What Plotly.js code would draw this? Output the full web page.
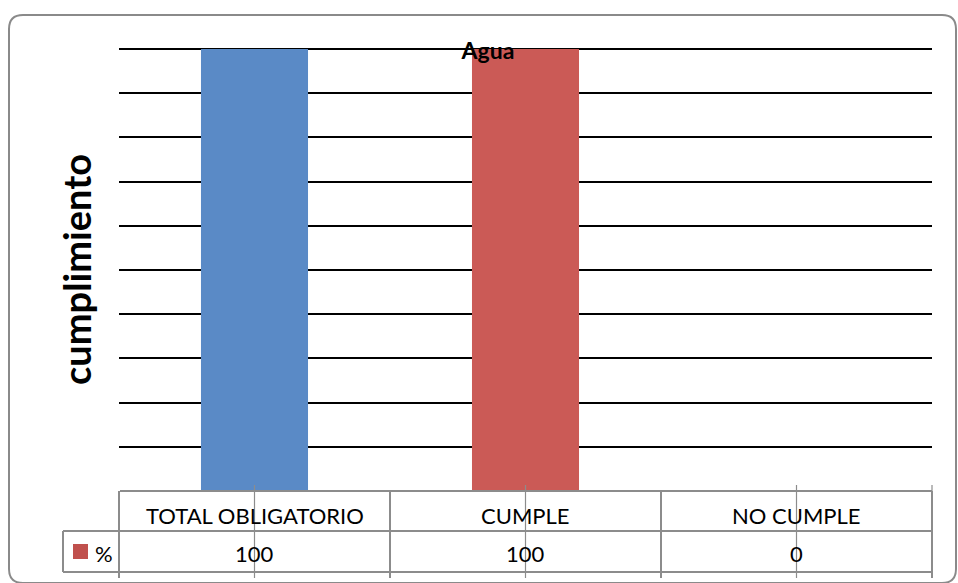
<!DOCTYPE html>
<html>
<head>
<meta charset="utf-8">
<script src="https://cdn.plot.ly/plotly-3.0.1.min.js"></script>
<style>
  html, body { margin: 0; padding: 0; background: #ffffff; }
  #chart { width: 958px; height: 583px; }
</style>
</head>
<body>
<div id="chart"></div>
<script>
// Compliance data: one series "%" across three categories
const chartTitle = 'Agua';
const yTitle = 'cumplimiento';
const seriesName = '%';
const categories = ['TOTAL OBLIGATORIO', 'CUMPLE', 'NO CUMPLE'];
const values = [100, 100, 0];
const gridValues = [10, 20, 30, 40, 50, 60, 70, 80, 90, 100];

const barColors = ['#5A8AC6', '#CB5A56', '#9BBB59'];
const keyColor = '#C0504D';
const tableLine = '#8C8C8C';
const FONT = 'Lato, "Open Sans", sans-serif';

// Figure geometry (pixels); the value axis tops out a hair above 100
// so the 100 gridline is drawn inside the plot area
const W = 958, H = 583;
const M = { l: 119, r: 26, t: 48, b: 92 };
const PW = W - M.l - M.r, PH = H - M.t - M.b;
const fx = p => (p - M.l) / PW;          // pixel x -> paper x
const fy = p => 1 - (p - M.t) / PH;      // pixel y -> paper y

// Data-table rows below the plot area
const rowTop = 491, rowMid = 531, rowBot = 572, tickBot = 578, keyLeft = 63;
const n = categories.length;

const shapes = [];
const line = (x0, y0, x1, y1, w, c) => shapes.push({
  type: 'line', xref: 'paper', yref: 'paper', layer: 'above',
  x0: x0, y0: y0, x1: x1, y1: y1, line: { color: c || tableLine, width: w }
});

// Rounded outer frame
(function () {
  const x0 = 9, x1 = 956, y0 = 15, y1 = 583, r = 14;
  const X = fx, Y = fy;
  const d = [
    'M', X(x0 + r), Y(y0), 'L', X(x1 - r), Y(y0),
    'Q', X(x1), Y(y0), X(x1), Y(y0 + r),
    'L', X(x1), Y(y1 - r),
    'Q', X(x1), Y(y1), X(x1 - r), Y(y1),
    'L', X(x0 + r), Y(y1),
    'Q', X(x0), Y(y1), X(x0), Y(y1 - r),
    'L', X(x0), Y(y0 + r),
    'Q', X(x0), Y(y0), X(x0 + r), Y(y0), 'Z'
  ].join(' ');
  shapes.push({ type: 'path', xref: 'paper', yref: 'paper', path: d,
    line: { color: '#8A8A8A', width: 2 }, layer: 'below' });
})();

// Table grid
line(fx(120), fy(rowTop), 1, fy(rowTop), 2);
line(fx(keyLeft), fy(rowMid), 1, fy(rowMid), 2);
line(fx(keyLeft), fy(rowBot), 1, fy(rowBot), 2);
line(fx(keyLeft), fy(rowMid), fx(keyLeft), fy(rowBot), 2);
for (let i = 0; i <= n; i++) {
  line(i / n, fy(rowTop), i / n, fy(tickBot), 2);
}
// Category tick marks running through the table
for (let i = 0; i < n; i++) {
  line((i + 0.5) / n, fy(485), (i + 0.5) / n, fy(tickBot), 1.2);
}
line(1, fy(485), 1, fy(rowTop), 1.2);

// Legend key for the series
shapes.push({ type: 'rect', xref: 'paper', yref: 'paper', layer: 'above',
  x0: fx(73), x1: fx(88), y0: fy(544), y1: fy(559),
  fillcolor: keyColor, line: { width: 0 } });

const cellFont = { family: FONT, size: 22, color: '#000' };
const annotations = [];
categories.forEach((c, i) => {
  annotations.push({ xref: 'x', yref: 'paper', x: c, y: fy(515),
    text: c, showarrow: false, xanchor: 'center', yanchor: 'middle', font: cellFont });
  annotations.push({ xref: 'x', yref: 'paper', x: c, y: fy(553),
    text: String(values[i]), showarrow: false, xanchor: 'center', yanchor: 'middle', font: cellFont });
});
annotations.push({ xref: 'paper', yref: 'paper', x: fx(93), y: fy(553),
  text: seriesName, showarrow: false, xanchor: 'left', yanchor: 'middle', font: cellFont });

const trace = {
  type: 'bar', name: seriesName, x: categories, y: values,
  marker: { color: barColors, line: { width: 0 } },
  hoverinfo: 'x+y', showlegend: false
};

const layout = {
  width: W, height: H,
  margin: M,
  paper_bgcolor: '#ffffff', plot_bgcolor: '#ffffff',
  font: { family: FONT, color: '#000' },
  title: {
    text: '<b>' + chartTitle + '</b>',
    font: { family: FONT, size: 23, color: '#000' },
    xref: 'container', yref: 'container',
    x: 488 / W, y: 1 - 51 / H, xanchor: 'center', yanchor: 'middle'
  },
  bargap: 0.605,
  showlegend: false,
  xaxis: {
    type: 'category', range: [-0.5, n - 0.5],
    showticklabels: false, ticks: '', showgrid: false,
    zeroline: false, showline: false, fixedrange: true
  },
  yaxis: {
    range: [0, 100.23], tickmode: 'array', tickvals: gridValues,
    showticklabels: false, ticks: '',
    showgrid: true, gridcolor: '#000000', gridwidth: 2,
    zeroline: false, showline: false, fixedrange: true,
    title: { text: '<b>' + yTitle + '</b>', font: { family: FONT, size: 38, color: '#000' }, standoff: 14 }
  },
  shapes: shapes,
  annotations: annotations
};

Plotly.newPlot('chart', [trace], layout, { displayModeBar: false, staticPlot: true });
</script>
</body>
</html>
